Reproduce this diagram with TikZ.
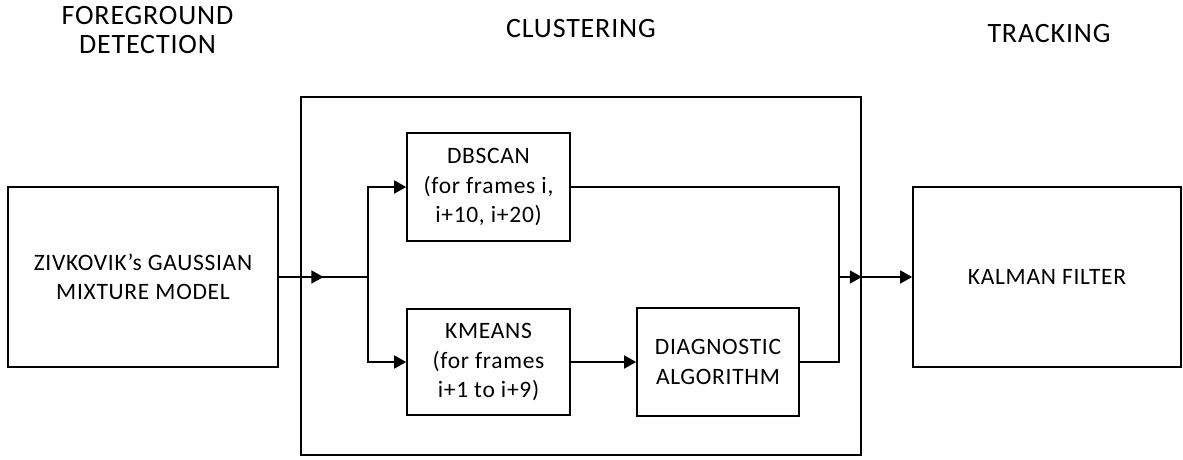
\documentclass[tikz,border=0pt]{standalone}
\usepackage{fontspec}
\setmainfont{Carlito}[LetterSpace=3]
\usetikzlibrary{arrows.meta,calc}

\tikzset{
  block/.style={draw, line width=1.7pt, align=center, inner sep=2pt,
    font=\fontsize{23.5}{29.5}\selectfont},
  heading/.style={align=center, font=\fontsize{28}{29.5}\selectfont},
  wire/.style={line width=1.7pt},
  flow/.style={wire, -{Triangle[length=12pt,width=13pt]}},
}

\begin{document}
\begin{tikzpicture}[x=1pt, y=-1pt]
    \useasboundingbox (0,0) rectangle (1183,459);

    % stage titles
    \node[heading] (tfg) at (147.5,30) {FOREGROUND\\DETECTION};
    \node[heading, anchor=base] (tcl) at (581,37) {CLUSTERING};
    \node[heading, anchor=base] (ttr) at (1049,42) {TRACKING};

    % blocks
    \node[block, minimum width=560pt, minimum height=358pt] (frame) at (581,276) {};
    \node[block, minimum width=270pt, minimum height=180pt] (gmm) at (143,277)
      {ZIVKOVIK's GAUSSIAN\\MIXTURE MODEL};
    \node[block, minimum width=163pt, minimum height=108pt] (dbscan) at (488.5,187)
      {DBSCAN\\(for frames i,\\i+10, i+20)};
    \node[block, minimum width=163pt, minimum height=106pt] (kmeans) at (488.5,362)
      {KMEANS\\(for frames\\i+1 to i+9)};
    \node[block, minimum width=162pt, minimum height=108pt] (diag) at (718,362)
      {DIAGNOSTIC\\ALGORITHM};
    \node[block, minimum width=268pt, minimum height=180pt] (kalman) at (1047,277)
      {KALMAN FILTER};

    % connectors
    \coordinate (split) at (368,277);
    \coordinate (merge) at (839,277);
    \draw[wire] (gmm.east) -- (split);
    \draw[flow] (gmm.east) -- ($(gmm.east)!0.5!(split)$);
    \draw[flow] (split) |- (dbscan.west);
    \draw[flow] (split) |- (kmeans.west);
    \draw[flow] (kmeans) -- (diag);
    \draw[wire] (dbscan.east) -| (merge);
    \draw[wire] (diag.east) -| (merge);
    \draw[flow] (merge) -- (frame.east |- merge);
    \draw[flow] (frame.east |- merge) -- (kalman.west);
  \end{tikzpicture}
\end{document}
